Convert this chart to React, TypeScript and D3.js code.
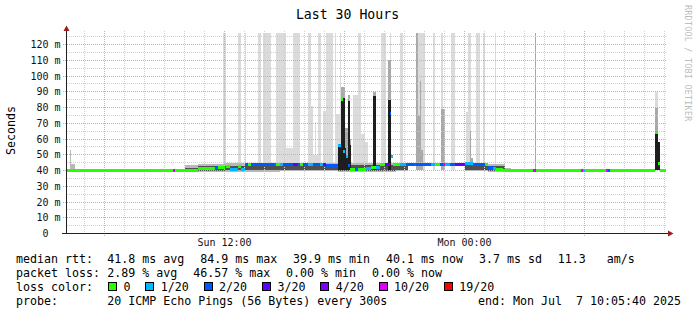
import React from 'react';
import * as d3 from 'd3';

// ---------------- DATA ----------------
const startTime = new Date(2025, 6, 6, 4, 5, 40);
const endTime = new Date(2025, 6, 7, 10, 5, 40);
const STEP_SEC = 300;

// median rtt runs over 5-minute steps: [firstStep, lastStep, medianMs, lostPings(of 20)]
const medianRuns: [number, number, number, number][] = [
  [0, 63, 40.0, 0], [64, 64, 40.0, 10], [65, 70, 40.0, 0], [71, 78, 40.3, 0],
  [79, 88, 41.3, 0], [89, 90, 41.6, 2], [91, 94, 41.8, 0], [95, 95, 41.5, 2],
  [96, 97, 42.6, 0], [98, 102, 40.7, 1], [103, 104, 42.6, 0], [105, 106, 40.8, 1],
  [107, 108, 43.6, 2], [109, 110, 43.6, 0], [111, 124, 43.6, 2], [125, 125, 43.6, 10],
  [126, 127, 43.6, 0], [128, 129, 43.6, 1], [130, 135, 43.6, 2], [136, 138, 43.6, 3],
  [139, 139, 43.6, 2], [140, 141, 43.6, 0], [142, 144, 43.6, 2], [145, 147, 43.6, 1],
  [148, 151, 43.6, 2], [152, 153, 43.6, 1], [154, 155, 43.6, 3], [156, 162, 43.2, 2],
  [163, 164, 56, 1], [165, 165, 85, 0], [166, 166, 52, 1], [167, 167, 55, 0],
  [168, 168, 49, 1], [169, 169, 43, 2], [170, 172, 40.6, 0], [173, 174, 40.8, 2],
  [175, 179, 40.6, 0], [180, 182, 41.2, 1], [183, 185, 42.2, 0], [186, 187, 42.0, 1],
  [188, 190, 43.5, 0], [191, 193, 43.5, 3], [194, 194, 76, 2], [195, 195, 49, 1],
  [196, 199, 43.6, 0], [200, 203, 43.8, 1], [204, 208, 43.8, 2], [209, 209, 43.8, 10],
  [210, 218, 43.8, 2], [219, 220, 43.8, 1], [221, 223, 43.8, 0], [224, 225, 43.8, 2],
  [226, 226, 43.8, 10], [227, 229, 43.8, 1], [230, 232, 43.8, 2], [233, 238, 43.8, 3],
  [239, 243, 44.2, 1], [244, 250, 43.8, 2], [251, 252, 43.6, 0], [253, 255, 41.6, 2],
  [256, 257, 41.0, 1], [258, 261, 40.6, 0], [262, 279, 40.0, 0], [280, 280, 40.0, 10],
  [281, 281, 40.0, 2], [282, 308, 40.0, 0], [309, 309, 40.0, 10], [310, 310, 40.0, 1],
  [311, 323, 40.0, 0], [324, 324, 40.0, 10], [325, 325, 40.0, 2], [326, 352, 40.0, 0],
  [353, 354, 64, 0], [355, 355, 44.7, 0], [356, 359, 40.0, 0],
];

// smoke band around the median: [first, last, outerLoMs, innerLoMs, innerHiMs, outerHiMs]
const smokeRuns: [number, number, number, number, number, number][] = [
  [2, 2, 40.0, 40.0, 40.0, 53], [3, 4, 40.0, 40.0, 41.0, 44],
  [71, 78, 39.0, 39.6, 41.6, 43.6], [79, 94, 39.2, 40.0, 42.8, 44.2],
  [95, 127, 39.2, 40.2, 43.0, 44.6], [128, 162, 39.4, 40.4, 42.8, 44.6],
  [163, 197, 39.2, 40.0, 43.2, 44.6], [198, 204, 39.4, 40.4, 43.4, 44.6],
  [205, 238, 42.8, 43.2, 44.2, 44.8], [239, 252, 39.4, 40.4, 43.6, 45.0],
  [253, 262, 39.2, 39.8, 42.6, 44.0], [263, 266, 39.4, 39.8, 40.6, 41.6],
];

// slow pings reaching high (999 = beyond top of graph): [first, last, topMs, pingRankLevel]
const slowRuns: [number, number, number, number][] = [
  [94, 95, 999, 0], [103, 104, 999, 0], [107, 107, 999, 0], [115, 116, 999, 0],
  [118, 122, 999, 0], [126, 127, 999, 0], [128, 131, 999, 0], [132, 135, 54, 0],
  [136, 139, 999, 0], [145, 146, 999, 0], [147, 147, 81, 0], [148, 150, 50, 0],
  [149, 149, 71, 0], [151, 152, 999, 0], [154, 155, 78, 0], [156, 159, 999, 0],
  [161, 161, 999, 0], [162, 163, 76, 0], [164, 164, 999, 0], [172, 174, 88, 0],
  [175, 176, 999, 0], [177, 178, 63, 0], [179, 180, 58, 0], [189, 191, 999, 0],
  [194, 194, 999, 0], [200, 201, 999, 0], [211, 214, 999, 0], [220, 220, 999, 0],
  [225, 225, 999, 0], [231, 232, 999, 0], [240, 240, 77, 0], [241, 242, 999, 0],
  [246, 247, 999, 0], [250, 250, 999, 0], [257, 257, 999, 0], [353, 354, 90, 0],
  [165, 166, 93, 1], [167, 168, 67, 1], [169, 169, 88, 1], [170, 170, 60, 1],
  [184, 185, 90, 1], [193, 194, 110, 1], [210, 210, 999, 1], [211, 211, 75, 1],
  [212, 212, 97, 1], [213, 213, 53, 1], [225, 226, 79, 1], [242, 242, 65, 1],
  [243, 243, 48, 1], [281, 281, 999, 1], [353, 354, 80, 1],
];

// dense core of the ping distribution during spikes: [first, last, topMs]
const coreRuns: [number, number, number][] = [
  [163, 164, 57], [165, 166, 86], [167, 167, 56], [168, 168, 50], [169, 169, 84],
  [170, 170, 56], [184, 185, 87], [193, 194, 85], [353, 354, 64], [355, 355, 58],
];

const yTickValues = [0, 10, 20, 30, 40, 50, 60, 70, 80, 90, 100, 110, 120];
const yMinorValues = [5, 15, 25, 35, 45, 55, 65, 75, 85, 95, 105, 115, 125];

const lossBins = [0, 1, 2, 3, 4, 10, 19];
const lossLabels = ['0', '1/20', '2/20', '3/20', '4/20', '10/20', '19/20'];
const lossColors = ['#26ff00', '#00b8ff', '#0059ff', '#5e00ff', '#7e00ff', '#dd00ff', '#ff0000'];

const titleText = 'Last 30 Hours';
const yAxisTitle = 'Seconds';
const watermark = 'RRDTOOL / TOBI OETIKER';
const rttLabel = 'median rtt:';
const rttStats = ['41.8 ms avg', '84.9 ms max', '39.9 ms min', '40.1 ms now', '3.7 ms sd', '11.3   am/s'];
const lossLabel = 'packet loss:';
const lossStats = ['2.89 % avg', '46.57 % max', '0.00 % min', '0.00 % now'];
const colorLabel = 'loss color:';
const probeLabel = 'probe:';
const probeText = '20 ICMP Echo Pings (56 Bytes) every 300s';
const endText = 'end: Mon Jul  7 10:05:40 2025';

// ---------------- CHART ----------------
const W = 697;
const H = 315;
const MONO = '"DejaVu Sans Mono", monospace';
const shadeColors = ['#dbdbdb', '#a9a9a9'];

function binIndex(lost: number) {
  let idx = 0;
  lossBins.forEach((b, i) => { if (lost >= b) idx = i; });
  return idx;
}

export default function App() {
  const x = d3.scaleTime().domain([startTime, endTime]).range([66.4, 666.4]);
  const y = d3.scaleLinear().domain([0, 120]).range([233.5, 44.5]);
  const plotTop = 33;
  const yMaxVal = y.invert(plotTop);

  const stepTime = (s: number) => new Date(+startTime + s * STEP_SEC * 1000);
  const colX = (s: number) => Math.round(x(stepTime(s)));
  const py = (v: number) => Math.max(plotTop, Math.round(y(Math.min(v, yMaxVal))));

  const runRect = (first: number, last: number, lo: number, hi: number, fill: string, key: string) => {
    const x0 = colX(first);
    const x1 = colX(last + 1);
    const y0 = py(lo);
    const y1 = py(hi);
    return <rect key={key} x={x0} y={y1} width={x1 - x0} height={Math.max(0, y0 - y1)} fill={fill} />;
  };

  const hourTicks = d3.timeHour.every(1)!.range(startTime, endTime);
  const sixTicks = d3.timeHour.every(6)!.range(startTime, endTime);
  const labelTicks = d3.timeHour.every(12)!.range(startTime, endTime);
  const fmt = d3.timeFormat('%a %H:%M');
  const isMajor = (t: Date) => sixTicks.some((m) => +m === +t);
  const gx = (t: Date) => Math.floor(x(t)) + 0.5;
  const gy = (v: number) => Math.floor(y(v)) + 0.5;

  const minorColor = '#cfcfcf';
  const majorColor = '#eda0a0';

  // legend layout
  const charW = 7;
  const valX = 107.3;
  const gap = 15.9;
  const layout = (items: string[]) => {
    const xs: number[] = [];
    let cx = valX;
    items.forEach((it) => { xs.push(cx); cx += it.length * charW + gap; });
    return xs;
  };
  const rttX = layout(rttStats);
  const lossX = layout(lossStats);
  const boxXs: number[] = [];
  {
    let bx = 108.5;
    lossLabels.forEach((lab) => { boxXs.push(bx); bx += 15 + lab.length * charW + 15.3; });
  }
  const lineY = [263, 277, 291, 305];
  const legendFont = { fontFamily: MONO, fontSize: 11.63, whiteSpace: 'pre' as const };

  return (
    <svg width={W} height={H} style={{ position: 'fixed', left: 0, top: 0, background: '#fff' }}>
      <rect x={0} y={0} width={W} height={H} fill="#ffffff" />

      <g shapeRendering="crispEdges">
        {/* slow pings */}
        {slowRuns.filter((r) => r[3] === 0).map((r, i) => runRect(r[0], r[1], 40.5, r[2], shadeColors[0], 'sl' + i))}
        {slowRuns.filter((r) => r[3] === 1).map((r, i) => runRect(r[0], r[1], 40.5, r[2], shadeColors[1], 'sm' + i))}
        {/* smoke */}
        {smokeRuns.map((r, i) => runRect(r[0], r[1], r[2], r[5], '#b8b8b8', 'so' + i))}
        {smokeRuns.map((r, i) => runRect(r[0], r[1], r[3], r[4], '#505050', 'si' + i))}
      </g>

      {/* grid */}
      <g shapeRendering="crispEdges">
        {yMinorValues.filter((v) => v <= yMaxVal).map((v) => (
          <line key={'hm' + v} x1={66.5} x2={667} y1={gy(v)} y2={gy(v)} stroke={minorColor} strokeDasharray="1,1" />
        ))}
        {hourTicks.filter((t) => !isMajor(t)).map((t) => (
          <line key={'vm' + +t} x1={gx(t)} x2={gx(t)} y1={31} y2={233} stroke={minorColor} strokeDasharray="1,1" />
        ))}
        {yTickValues.map((v) => (
          <line key={'hM' + v} x1={63} x2={667} y1={gy(v)} y2={gy(v)} stroke={majorColor} strokeDasharray="1,1" />
        ))}
        {sixTicks.map((t) => (
          <line key={'vM' + +t} x1={gx(t)} x2={gx(t)} y1={31} y2={237} stroke={majorColor} strokeDasharray="1,1" />
        ))}
      </g>

      {/* spike cores */}
      <g shapeRendering="crispEdges">
        {coreRuns.map((r, i) => runRect(r[0], r[1], 40.5, r[2], '#1e1e1e', 'c' + i))}
      </g>

      {/* median marks coloured by loss (one small box per step, no connectors) */}
      <g shapeRendering="crispEdges">
        {medianRuns.map(([a, b, m, l], i) => {
          const x0 = colX(a);
          const x1 = colX(b + 1);
          const yc = Math.round(y(m) - 1.5);
          return <rect key={'m' + i} x={x0} y={yc} width={x1 - x0} height={3} fill={lossColors[binIndex(l)]} />;
        })}
      </g>

      {/* axes */}
      <g shapeRendering="crispEdges">
        <line x1={66.5} x2={66.5} y1={234} y2={29} stroke="#222" />
        <line x1={62} x2={669} y1={233.5} y2={233.5} stroke="#222" />
      </g>
      <polygon points="63.5,31 69.5,31 66.5,25.5" fill="#9b1c1c" />
      <polygon points="668,230.5 668,236.5 673.5,233.5" fill="#9b1c1c" />

      {/* y labels */}
      {yTickValues.map((v) => (
        <text key={'yl' + v} x={60.5} y={gy(v) + 3.5} textAnchor="end" fontFamily={MONO} fontSize={10} fill="#111" style={{ whiteSpace: 'pre' }}>
          {v === 0 ? '0  ' : `${v} m`}
        </text>
      ))}
      {/* x labels */}
      {labelTicks.map((t) => (
        <text key={'xl' + +t} x={x(t)} y={245.5} textAnchor="middle" fontFamily={MONO} fontSize={10} fill="#111">
          {fmt(t)}
        </text>
      ))}

      {/* titles */}
      <text x={347.5} y={18.5} textAnchor="middle" fontFamily={MONO} fontSize={13.2} fill="#000">{titleText}</text>
      <text transform="translate(14.8,130.5) rotate(-90)" textAnchor="middle" fontFamily={MONO} fontSize={11.63} fill="#000">{yAxisTitle}</text>
      <text transform="translate(684.5,5) rotate(90)" fontFamily={MONO} fontSize={8.3} letterSpacing={0.3} fill="#bdbdbd">{watermark}</text>

      {/* legend */}
      <g fill="#000" style={legendFont}>
        <text x={16} y={lineY[0]} style={legendFont}>{rttLabel}</text>
        {rttStats.map((s, i) => <text key={'r' + i} x={rttX[i]} y={lineY[0]} style={legendFont}>{s}</text>)}
        <text x={16} y={lineY[1]} style={legendFont}>{lossLabel}</text>
        {lossStats.map((s, i) => <text key={'l' + i} x={lossX[i]} y={lineY[1]} style={legendFont}>{s}</text>)}
        <text x={16} y={lineY[2]} style={legendFont}>{colorLabel}</text>
        {lossLabels.map((lab, i) => (
          <g key={'b' + i}>
            <rect x={boxXs[i]} y={282.5} width={8} height={8} fill={lossColors[i]} stroke="#000" strokeWidth={1} shapeRendering="crispEdges" />
            <text x={boxXs[i] + 15} y={lineY[2]} style={legendFont}>{lab}</text>
          </g>
        ))}
        <text x={16} y={lineY[3]} style={legendFont}>{probeLabel}</text>
        <text x={valX} y={lineY[3]} style={legendFont}>{probeText}</text>
        <text x={681} y={lineY[3]} textAnchor="end" style={legendFont}>{endText}</text>
      </g>
    </svg>
  );
}
